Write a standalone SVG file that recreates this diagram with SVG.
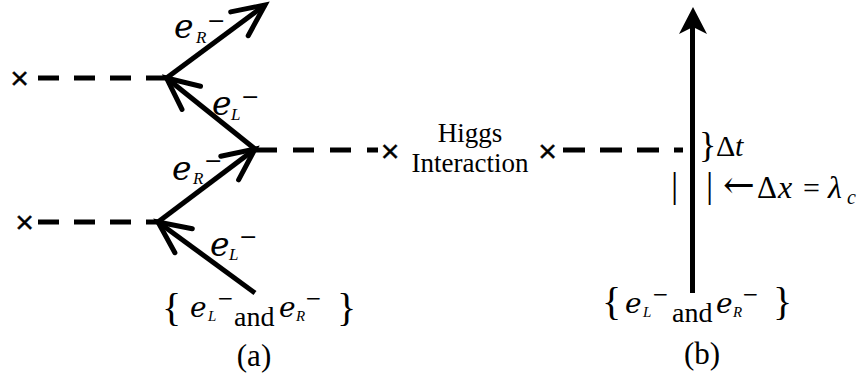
<svg xmlns="http://www.w3.org/2000/svg" width="860" height="377" viewBox="0 0 860 377">
<style>
.ln{stroke:#000;stroke-width:5;fill:none}
.ah{stroke:#000;stroke-width:5;fill:none;stroke-linejoin:miter;stroke-linecap:round}
.dash{stroke:#000;stroke-width:5;fill:none}
.t{font-family:"Liberation Serif","Times New Roman",serif;fill:#000}
.e{font-family:"DejaVu Serif",serif;font-style:italic;fill:#000}
.it{font-family:"Liberation Serif","Times New Roman",serif;font-style:italic;fill:#000}
.m{font-family:"DejaVu Serif",serif;fill:#000}
.x{font-family:"Liberation Sans",Arial,sans-serif;font-size:32px;text-anchor:middle;fill:#000;stroke:#000;stroke-width:0.4}
</style>
<rect width="860" height="377" fill="#fff"/>
<g id="connectors">
  <line class="dash" x1="38" y1="78" x2="166" y2="78" stroke-dasharray="21 15"/>
  <line class="dash" x1="38" y1="222" x2="158" y2="222" stroke-dasharray="21 15"/>
  <line class="dash" x1="256" y1="150" x2="378" y2="150" stroke-dasharray="21 16"/>
  <line class="dash" x1="563" y1="150" x2="683" y2="150" stroke-dasharray="22 15"/>
  <line class="ln" x1="166.5" y1="78" x2="265" y2="5"/>
  <polyline class="ah" points="248.2,35.7 265,5 230.7,11.9"/>
  <line class="ln" x1="255" y1="149" x2="166.5" y2="78"/>
  <polyline class="ah" points="200.5,86.3 166.5,78 182,109.4"/>
  <line class="ln" x1="158" y1="222" x2="255" y2="149"/>
  <polyline class="ah" points="238.6,179.9 255,149 220.8,156.3"/>
  <line class="ln" x1="255" y1="293" x2="158" y2="222"/>
  <polyline class="ah" points="192.3,228.8 158,222 174.9,252.7"/>
  <line class="ln" x1="692.5" y1="293" x2="692.5" y2="26"/>
  <polygon points="693,7 707,34 693,27 679,34" fill="#000"/>
</g>
<g id="x-top"><text class="x" x="19.5" y="89">×</text></g>
<g id="x-bottom"><text class="x" x="24.5" y="233">×</text></g>
<g id="x-mid"><text class="x" x="390" y="162">×</text></g>
<g id="x-right"><text class="x" x="547.5" y="162">×</text></g>
<g id="label-eR-top"><text class="e" font-size="33" x="174" y="38">e</text><text class="it" font-size="17" x="196" y="43">R</text><text class="m" font-size="22" x="207" y="28">−</text></g>
<g id="label-eL-mid"><text class="e" font-size="33" x="212" y="115">e</text><text class="it" font-size="17" x="231" y="120">L</text><text class="m" font-size="22" x="241" y="104">−</text></g>
<g id="label-eR-low"><text class="e" font-size="33" x="172" y="180">e</text><text class="it" font-size="17" x="193" y="184">R</text><text class="m" font-size="22" x="204" y="168">−</text></g>
<g id="label-eL-low"><text class="e" font-size="33" x="210" y="256">e</text><text class="it" font-size="17" x="229" y="260">L</text><text class="m" font-size="22" x="239" y="244">−</text></g>
<g id="source-a">
  <text class="t" font-size="40" x="162" y="321">{</text>
  <text class="e" font-size="28" x="190" y="317">e</text><text class="it" font-size="15" x="208" y="321">L</text><text class="m" font-size="20" x="217" y="305">−</text>
  <text class="t" font-size="28" x="234" y="326">and</text>
  <text class="e" font-size="28" x="279" y="317">e</text><text class="it" font-size="15" x="296" y="321">R</text><text class="m" font-size="20" x="305" y="305">−</text>
  <text class="t" font-size="40" x="337" y="321">}</text>
</g>
<g id="caption-a"><text class="t" font-size="31" x="254" y="366" text-anchor="middle">(a)</text></g>
<g id="higgs"><text class="t" font-size="27" x="470" y="142" text-anchor="middle">Higgs</text><text class="t" font-size="27" x="470" y="172" text-anchor="middle">Interaction</text></g>
<g id="delta-t"><text class="t" font-size="36" x="699" y="157">}</text><text class="t" font-size="30" x="716" y="156">Δ</text><text class="it" font-size="30" x="735" y="156">t</text></g>
<g id="delta-x">
  <text class="t" font-size="36" x="671" y="197">|</text>
  <text class="t" font-size="36" x="706" y="197">|</text>
  <text class="m" font-size="38" x="723" y="198">←</text>
  <text class="t" font-size="31" x="757" y="198">Δ</text>
  <text class="it" font-size="32" x="778" y="198">x</text>
  <text class="t" font-size="30" x="803" y="198">=</text>
  <text class="it" font-size="32" x="828" y="198">λ</text>
  <text class="it" font-size="20" x="847" y="204">c</text>
</g>
<g id="source-b">
  <text class="t" font-size="40" x="602" y="315">{</text>
  <text class="e" font-size="28" x="625" y="313">e</text><text class="it" font-size="15" x="643" y="317">L</text><text class="m" font-size="20" x="652" y="301">−</text>
  <text class="t" font-size="28" x="672" y="322">and</text>
  <text class="e" font-size="28" x="716" y="313">e</text><text class="it" font-size="15" x="733" y="317">R</text><text class="m" font-size="20" x="742" y="301">−</text>
  <text class="t" font-size="40" x="773" y="315">}</text>
</g>
<g id="caption-b"><text class="t" font-size="31" x="702" y="364" text-anchor="middle">(b)</text></g>
</svg>
